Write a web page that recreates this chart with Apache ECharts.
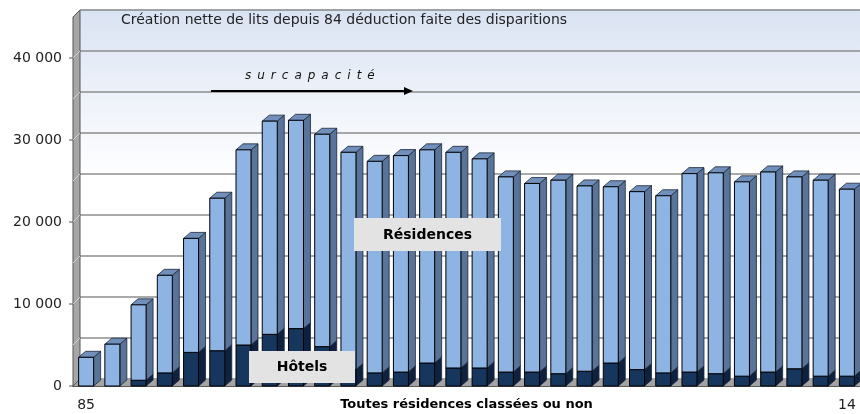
<!DOCTYPE html>
<html>
<head>
<meta charset="utf-8">
<script src="https://cdn.jsdelivr.net/npm/echarts@6/dist/echarts.min.js"></script>
<style>html,body{margin:0;padding:0;background:#fff}#c{width:860px;height:414px}</style>
</head>
<body>
<div id="c"></div>
<script>
// ---- data ----
const years = ['85','86','87','88','89','90','91','92','93','94','95','96','97','98','99',
               '00','01','02','03','04','05','06','07','08','09','10','11','12','13','14'];
const hotels = [0, 0, 700, 1600, 4100, 4300, 5000, 6300, 7000, 4800, 2000, 1600, 1700, 2800, 2200,
                2200, 1700, 1700, 1500, 1800, 2800, 2000, 1600, 1700, 1500, 1200, 1700, 2100, 1200, 1200];
const residences = [3500, 5100, 9200, 11900, 13900, 18600, 23800, 26000, 25400, 25900, 26500, 25800, 26400, 26000, 26300,
                    25500, 23800, 23000, 23600, 22600, 21500, 21700, 21600, 24200, 24500, 23700, 24400, 23400, 23900, 22800];
const yMax = 45000;
const titleText = 'Création nette de lits depuis 84 déduction faite des disparitions';
const xName = 'Toutes résidences classées ou non';
const noteText = 's\u2002u\u2002r\u2002c\u2002a\u2002p\u2002a\u2002c\u2002i\u2002t\u2002é';

// ---- style ----
const DX = 7, DY = 6;
const FONT = '"DejaVu Sans", Verdana, sans-serif';
const colors = {
  res: {front: '#8eb4e3', side: '#5a7499', top: '#7090bb'},
  hot: {front: '#17365d', side: '#0e2240', top: '#1f3f6a'}
};

function makeRender(pal) {
  return function (params, api) {
    const idx = api.value(0), lo = api.value(1), hi = api.value(2);
    if (!(hi > lo)) return null;
    const t = api.coord([idx, hi]);
    const b = api.coord([idx, lo]);
    const w = api.size([1, 0])[0] * 0.572;
    const x0 = t[0] - w / 2, x1 = t[0] + w / 2;
    const yt = t[1], yb = b[1];
    return {
      type: 'group',
      children: [
        {type: 'polygon', shape: {points: [[x1, yb], [x1 + DX, yb - DY], [x1 + DX, yt - DY], [x1, yt]]},
         style: {fill: pal.side, stroke: '#1a2638', lineWidth: 0.8}},
        {type: 'polygon', shape: {points: [[x0, yt], [x1, yt], [x1 + DX, yt - DY], [x0 + DX, yt - DY]]},
         style: {fill: pal.top, stroke: '#1a2638', lineWidth: 0.8}},
        {type: 'rect', shape: {x: x0, y: yt, width: w, height: yb - yt},
         style: {fill: pal.front, stroke: '#000', lineWidth: 1}}
      ]
    };
  };
}

const hotData = years.map((y, i) => [i, 0, hotels[i]]);
const resData = years.map((y, i) => [i, hotels[i], hotels[i] + residences[i]]);

const chart = echarts.init(document.getElementById('c'), null, {renderer: 'canvas'});
chart.setOption({
  animation: false,
  backgroundColor: '#fff',
  grid: [
    {left: 73, right: 0, top: 17, bottom: 28, containLabel: false, outerBoundsMode: 'none'},
    {left: 80, right: 0, top: 10, bottom: 35, show: true, borderWidth: 0, containLabel: false, outerBoundsMode: 'none',
     backgroundColor: {type: 'linear', x: 0, y: 0, x2: 0, y2: 1,
       colorStops: [{offset: 0, color: '#dae3f3'}, {offset: 0.45, color: '#ffffff'}, {offset: 1, color: '#ffffff'}]}}
  ],
  xAxis: [
    {type: 'category', gridIndex: 0, data: years,
     axisLine: {show: true, lineStyle: {color: '#222', width: 1.5}},
     axisTick: {show: false},
     axisLabel: {interval: 0, margin: 12, fontFamily: FONT, fontSize: 14, color: '#222',
       formatter: (v, i) => (i === 0 || i === years.length - 1) ? v : ''},
     name: xName, nameLocation: 'middle', nameGap: 12, nameMoveOverlap: false,
     nameTextStyle: {fontFamily: FONT, fontSize: 13, fontWeight: 'bold', color: '#000'}},
    {type: 'value', gridIndex: 1, show: false, min: 0, max: 1}
  ],
  yAxis: [
    {type: 'value', gridIndex: 0, min: 0, max: yMax, interval: 10000,
     axisLine: {show: false}, splitLine: {show: false},
     axisTick: {show: false},
     axisLabel: {margin: 11, fontFamily: FONT, fontSize: 14, color: '#222',
       formatter: v => v === 0 ? '0' : (v % 10000 === 0 && v < yMax ? (v / 1000) + ' 000' : '')}},
    {type: 'value', gridIndex: 1, min: 0, max: yMax, interval: 5000,
     axisLine: {show: false}, axisTick: {show: false}, axisLabel: {show: false},
     splitLine: {show: true, lineStyle: {color: '#8c8c8c', width: 1.5}}}
  ],
  series: [
    {type: 'custom', name: 'Hôtels', xAxisIndex: 0, yAxisIndex: 0, z: 3,
     renderItem: makeRender(colors.hot), encode: {x: 0, y: [1, 2]}, data: hotData},
    {type: 'custom', name: 'Résidences', xAxisIndex: 0, yAxisIndex: 0, z: 4,
     renderItem: makeRender(colors.res), encode: {x: 0, y: [1, 2]}, data: resData}
  ]
});

// decoration: walls, floor, ticks, annotations
function decorate() {
  const fy = v => chart.convertToPixel({yAxisIndex: 0}, v);
  const by = v => chart.convertToPixel({yAxisIndex: 1}, v);
  const xL = 73, xB = 80, xR = 860;
  const g = [];
  // floor
  g.push({type: 'polygon', z: 1, shape: {points: [[xL, fy(0)], [xR + DX, fy(0)], [xR + DX, by(0)], [xB, by(0)]]},
    style: {fill: '#a3a3a3'}});
  // left wall
  g.push({type: 'polygon', z: 1, shape: {points: [[xL, fy(0)], [xL, fy(yMax)], [xB, by(yMax)], [xB, by(0)]]},
    style: {fill: '#a6a6a6', stroke: '#555', lineWidth: 1}});
  for (let v = 5000; v < yMax; v += 5000) {
    g.push({type: 'line', z: 1, shape: {x1: xL, y1: fy(v), x2: xB, y2: by(v)},
      style: {stroke: '#d0d0d0', lineWidth: 1}});
  }
  // ticks at labelled values
  for (let v = 0; v < yMax; v += 10000) {
    g.push({type: 'line', z: 1, shape: {x1: xL - 4, y1: fy(v), x2: xL, y2: fy(v)},
      style: {stroke: '#555', lineWidth: 1}});
  }
  // top edge of back wall
  g.push({type: 'line', z: 1, shape: {x1: xB, y1: by(yMax), x2: xR, y2: by(yMax)},
    style: {stroke: '#9a9a9a', lineWidth: 1}});
  // title
  g.push({type: 'text', z: 10, style: {text: titleText, x: 121, y: 20, fontFamily: FONT, fontSize: 14,
    fill: '#222', textVerticalAlign: 'middle', verticalAlign: 'middle'}});
  // surcapacite
  g.push({type: 'text', z: 10, style: {text: noteText, x: 245, y: 76, fontFamily: FONT, fontSize: 12,
    fontStyle: 'italic', fill: '#111', verticalAlign: 'middle', textVerticalAlign: 'middle'}});
  g.push({type: 'line', z: 10, shape: {x1: 211, y1: 91, x2: 406, y2: 91}, style: {stroke: '#000', lineWidth: 2}});
  g.push({type: 'polygon', z: 10, shape: {points: [[404, 87], [413, 91], [404, 95]]}, style: {fill: '#000'}});
  // labels
  g.push({type: 'rect', z: 20, shape: {x: 354, y: 218, width: 147, height: 33}, style: {fill: '#e3e3e3'}});
  g.push({type: 'text', z: 21, style: {text: 'Résidences', x: 427.5, y: 235, fontFamily: FONT, fontSize: 14,
    fontWeight: 'bold', fill: '#000', align: 'center', textAlign: 'center', verticalAlign: 'middle', textVerticalAlign: 'middle'}});
  g.push({type: 'rect', z: 20, shape: {x: 249, y: 351, width: 106, height: 32}, style: {fill: '#e3e3e3'}});
  g.push({type: 'text', z: 21, style: {text: 'Hôtels', x: 302, y: 367, fontFamily: FONT, fontSize: 14,
    fontWeight: 'bold', fill: '#000', align: 'center', textAlign: 'center', verticalAlign: 'middle', textVerticalAlign: 'middle'}});
  chart.setOption({graphic: {elements: g}});
}
decorate();
</script>
</body>
</html>
